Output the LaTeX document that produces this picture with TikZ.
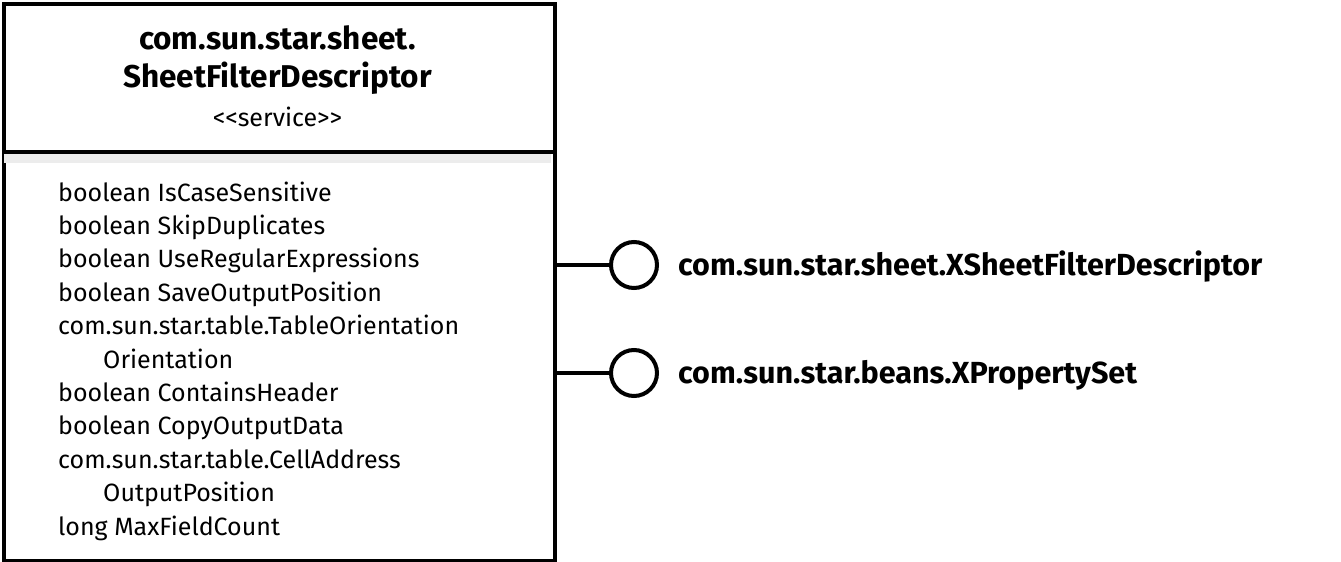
\documentclass[tikz,border=0pt]{standalone}
\usepackage{fontspec}
\setmainfont{Fira Sans}
\begin{document}
\begin{tikzpicture}[x=1pt,y=-1pt,
  attr/.style={anchor=base west,inner sep=0pt,font=\fontsize{25}{30}\selectfont},
  titl/.style={anchor=base,inner sep=0pt,font=\fontsize{31.5}{36}\selectfont\bfseries},
  iflabel/.style={anchor=base west,inner sep=0pt,font=\fontsize{30.5}{36}\selectfont\bfseries},
  lolly/.style={circle,draw,line width=4pt,minimum size=46pt,inner sep=0pt},
  edge/.style={line width=4pt}]
\useasboundingbox (0,0) rectangle (1341,562);
\fill[white] (0,0) rectangle (1341,562);
% box
\node[draw,line width=4pt,minimum width=551pt,minimum height=557pt,inner sep=0pt,anchor=north west] (box) at (2,2) {};
\fill[gray!15] (4,154) rectangle (551,163);
\draw[edge] (box.west |- 0,152) -- (box.east |- 0,152);
% title
\node[titl] (t1) at (277.5,49) {com.sun.star.sheet.};
\node[titl] (t2) at (277.5,87) {SheetFilterDescriptor};
\node[anchor=base,inner sep=0pt,font=\fontsize{25}{30}\selectfont] (st) at (277.5,126) {<{}<service>{}>};
% attributes
\node[attr] (a1) at (58,201) {boolean IsCaseSensitive};
\node[attr] (a2) at (58,234.4) {boolean SkipDuplicates};
\node[attr] (a3) at (58,267.8) {boolean UseRegularExpressions};
\node[attr] (a4) at (58,301.2) {boolean SaveOutputPosition};
\node[attr] (a5) at (58,334.6) {com.sun.star.table.TableOrientation};
\node[attr] (a6) at (103,368) {Orientation};
\node[attr] (a7) at (58,401.4) {boolean ContainsHeader};
\node[attr] (a8) at (58,434.8) {boolean CopyOutputData};
\node[attr] (a9) at (58,468.2) {com.sun.star.table.CellAddress};
\node[attr] (a10) at (103,501.6) {OutputPosition};
\node[attr] (a11) at (58,535) {long MaxFieldCount};
% interfaces
\node[lolly] (i1) at (634,265) {};
\node[lolly] (i2) at (634,373) {};
\draw[edge] (box.east |- i1) -- (i1.west);
\draw[edge] (box.east |- i2) -- (i2.west);
\node[iflabel] (l1) at (678,275) {com.sun.star.sheet.XSheetFilterDescriptor};
\node[iflabel] (l2) at (678,383) {com.sun.star.beans.XPropertySet};
\end{tikzpicture}
\end{document}
